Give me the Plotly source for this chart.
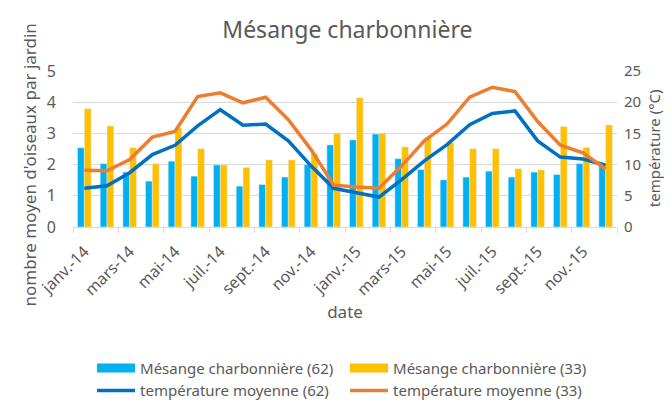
import plotly.graph_objects as go

# Données
mois = ["janv.-14", "févr.-14", "mars-14", "avr.-14", "mai-14", "juin-14",
        "juil.-14", "août-14", "sept.-14", "oct.-14", "nov.-14", "déc.-14",
        "janv.-15", "févr.-15", "mars-15", "avr.-15", "mai-15", "juin-15",
        "juil.-15", "août-15", "sept.-15", "oct.-15", "nov.-15", "déc.-15"]

oiseaux_62 = [2.54, 2.03, 1.76, 1.47, 2.11, 1.63, 1.99, 1.31, 1.36, 1.60, 2.00, 2.63,
              2.79, 2.98, 2.19, 1.84, 1.51, 1.60, 1.79, 1.60, 1.76, 1.68, 2.03, 1.96]
oiseaux_33 = [3.79, 3.24, 2.54, 2.03, 3.18, 2.51, 1.99, 1.91, 2.15, 2.15, 2.35, 3.01,
              4.14, 3.01, 2.57, 2.86, 2.70, 2.51, 2.51, 1.87, 1.83, 3.22, 2.55, 3.27]

temp_62 = [6.2, 6.6, 8.7, 11.6, 13.1, 16.2, 18.8, 16.3, 16.5, 13.8, 9.8, 6.2,
           5.5, 4.8, 7.6, 10.6, 13.2, 16.4, 18.2, 18.6, 13.8, 11.2, 10.9, 9.9]
temp_33 = [9.1, 9.0, 10.8, 14.4, 15.3, 20.9, 21.5, 19.9, 20.8, 17.2, 12.4, 6.7,
           6.4, 6.2, 9.8, 13.8, 16.5, 20.8, 22.4, 21.7, 16.9, 13.1, 11.9, 9.3]

GRIS = "#595959"
FONT = "Noto Sans, sans-serif"
BLEU_BARRE, JAUNE = "#00B0F0", "#FFC000"
BLEU_LIGNE, ORANGE = "#0070C0", "#ED7D31"

x = list(range(len(mois)))

fig = go.Figure()
fig.add_trace(go.Bar(x=x, y=oiseaux_62, name="Mésange charbonnière (62)",
                     marker_color=BLEU_BARRE, showlegend=False))
fig.add_trace(go.Bar(x=x, y=oiseaux_33, name="Mésange charbonnière (33)",
                     marker_color=JAUNE, showlegend=False))
fig.add_trace(go.Scatter(x=x, y=temp_62, name="température moyenne (62)",
                         mode="lines", line=dict(color=BLEU_LIGNE, width=3.5),
                         yaxis="y2", showlegend=False))
fig.add_trace(go.Scatter(x=x, y=temp_33, name="température moyenne (33)",
                         mode="lines", line=dict(color=ORANGE, width=3.5),
                         yaxis="y2", showlegend=False))

# entrées de légende façon Excel (rectangles larges pour les barres)
for nom, couleur, ep in [("Mésange charbonnière (62)", BLEU_BARRE, 9),
                         ("Mésange charbonnière (33)", JAUNE, 9),
                         ("température moyenne (62)", BLEU_LIGNE, 3.5),
                         ("température moyenne (33)", ORANGE, 3.5)]:
    fig.add_trace(go.Scatter(x=[None], y=[None], name=nom, mode="lines",
                             line=dict(color=couleur, width=ep)))

fig.update_layout(
    width=672, height=403,
    paper_bgcolor="white", plot_bgcolor="white",
    font=dict(family=FONT, size=13, color=GRIS),
    margin=dict(l=65, r=63, t=63, b=184, autoexpand=False),
    title=dict(text="Mésange charbonnière", x=0.505, xanchor="center",
               y=0.945, yanchor="middle",
               font=dict(size=23, color=GRIS)),
    barmode="group", bargap=0.4, bargroupgap=0,
    xaxis=dict(
        range=[-0.5, 23.5],
        tickvals=x[::2], ticktext=mois[::2], tickangle=-45,
        ticks="", showgrid=False,
        showline=True, linecolor="#D9D9D9",
        tickfont=dict(size=16, color=GRIS), ticklabelstandoff=8,
        minor=dict(tick0=-0.5, dtick=2, ticks="outside", ticklen=5,
                   tickcolor="#D9D9D9", showgrid=False),
        title=dict(text="date", font=dict(size=17, color=GRIS), standoff=4),
    ),
    yaxis=dict(
        range=[0, 5], dtick=1, gridcolor="#D9D9D9", zeroline=False,
        tickfont=dict(size=16, color=GRIS), ticklabelstandoff=16,
    ),
    yaxis2=dict(
        range=[0, 25], dtick=5, overlaying="y", side="right",
        showgrid=False, zeroline=False,
        tickfont=dict(size=15, color=GRIS), ticklabelstandoff=6,
    ),
    legend=dict(
        orientation="h", x=0.035, xanchor="left", y=-0.8, yanchor="top",
        entrywidth=200, itemwidth=38, traceorder="normal",
        font=dict(size=15, color=GRIS),
    ),
)

# titres des axes verticaux placés comme dans Excel
fig.add_annotation(text="nombre moyen d'oiseaux par jardin", textangle=-90,
                   xref="paper", yref="paper", x=-0.104, y=0.40,
                   xanchor="left", yanchor="middle", showarrow=False,
                   font=dict(size=17, color=GRIS))
fig.add_annotation(text="température (°C)", textangle=-90,
                   xref="paper", yref="paper", x=1.09, y=0.505,
                   xanchor="right", yanchor="middle", showarrow=False,
                   font=dict(size=15, color=GRIS))

fig.write_html("out.html")
